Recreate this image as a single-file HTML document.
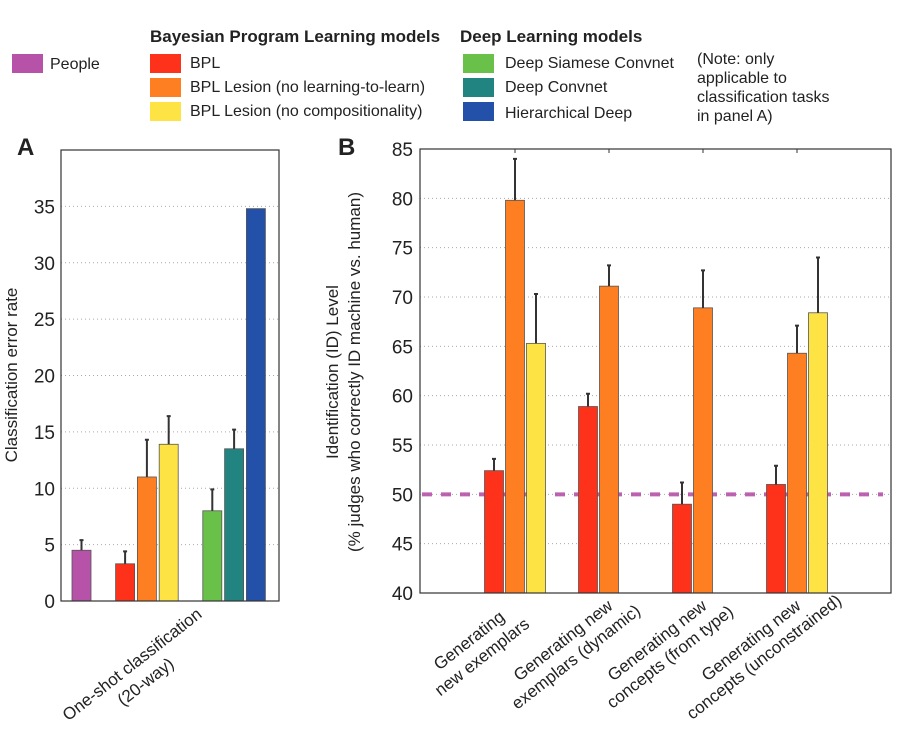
<!DOCTYPE html>
<html><head><meta charset="utf-8"><style>
body{margin:0;background:#fff;font-family:"Liberation Sans",sans-serif;}
svg text{font-family:"Liberation Sans",sans-serif;fill:#222;}
</style></head><body>
<svg width="924" height="729" viewBox="0 0 924 729" xmlns="http://www.w3.org/2000/svg" id="fig">
<g>
 <rect x="12" y="54" width="31" height="19" fill="#b652a8"/>
 <text x="50" y="69" font-size="16">People</text>
 <text x="150" y="42" font-size="17" font-weight="bold">Bayesian Program Learning models</text>
 <rect x="150" y="54" width="31" height="19" fill="#fe321a"/>
 <text x="190" y="68" font-size="16">BPL</text>
 <rect x="150" y="78" width="31" height="19" fill="#fe7f22"/>
 <text x="190" y="92" font-size="16">BPL Lesion (no learning-to-learn)</text>
 <rect x="150" y="102" width="31" height="19" fill="#fde444"/>
 <text x="190" y="116" font-size="16">BPL Lesion (no compositionality)</text>
 <text x="460" y="42" font-size="17" font-weight="bold">Deep Learning models</text>
 <rect x="463" y="54" width="31" height="19" fill="#69c14a"/>
 <text x="505" y="68" font-size="16">Deep Siamese Convnet</text>
 <rect x="463" y="78" width="31" height="19" fill="#228480"/>
 <text x="505" y="92" font-size="16">Deep Convnet</text>
 <rect x="463" y="102" width="31" height="19" fill="#2350a8"/>
 <text x="505" y="118" font-size="16">Hierarchical Deep</text>
 <text font-size="16"><tspan x="697" y="64">(Note: only</tspan><tspan x="697" y="83">applicable to</tspan><tspan x="697" y="102">classification tasks</tspan><tspan x="697" y="121">in panel A)</tspan></text>
</g>
<text x="17" y="155" font-size="24" font-weight="bold">A</text>
<text x="338" y="155" font-size="24" font-weight="bold">B</text>
<g id="pa"></g>
<g id="pb"></g>
</svg>
<script>
// Panel A data
const aColors=["#b652a8","#fe321a","#fe7f22","#fde444","#69c14a","#228480","#2350a8"];
const aValues=[4.5,3.3,11.0,13.9,8.0,13.5,34.8];
const aErr=[5.4,4.4,14.3,16.4,9.9,15.2,null];
const aTicks=[0,5,10,15,20,25,30,35];
const aSlot=[0,2,3,4,6,7,8];
// Panel B data
const bCategories=["Generating|new exemplars","Generating new|exemplars (dynamic)","Generating new|concepts (from type)","Generating new|concepts (unconstrained)"];
const bRed=[52.4,58.9,49.0,51.0];
const bRedErr=[53.6,60.2,51.2,52.9];
const bOrange=[79.8,71.1,68.9,64.3];
const bOrangeErr=[84.0,73.2,72.7,67.1];
const bYellow=[65.3,null,null,68.4];
const bYellowErr=[70.3,null,null,74.0];
const bTicks=[40,45,50,55,60,65,70,75,80,85];
const bHuman=50;

const NS="http://www.w3.org/2000/svg";
function mk(parent,tag,attrs,text){const e=document.createElementNS(NS,tag);for(const k in attrs)e.setAttribute(k,attrs[k]);if(text!==undefined)e.textContent=text;parent.appendChild(e);return e;}

// Panel A
(function(){
const g=document.getElementById('pa');
const L=61,R=279,T=150,B=601;
const y=v=>B-(v/40)*(B-T);
const x=s=>72+s*21.8;
for(const t of aTicks){
 if(t>0&&t<40){const gl=mk(g,'line',{x1:L,x2:R,y1:y(t),y2:y(t),stroke:'#aaa','stroke-dasharray':'1,3'});
 }
 const tl=mk(g,'text',{x:L-6,y:y(t)+7,'font-size':19,'text-anchor':'end'},t);
 
}
aValues.forEach((v,i)=>{
 const bx=x(aSlot[i]);
 const r=mk(g,'rect',{x:bx,y:y(v),width:19,height:B-y(v),fill:aColors[i],stroke:'#555','stroke-width':0.8});
 
 if(aErr[i]!=null){
  const e=mk(g,'path',{d:`M${bx+9.5},${y(v)}V${y(aErr[i])}M${bx+7.5},${y(aErr[i])}H${bx+11.5}`,stroke:'#333','stroke-width':2,fill:'none'});
  
 }
});
const fr=mk(g,'rect',{x:L,y:T,width:R-L,height:B-T,fill:'none',stroke:'#333','stroke-width':1.2});

const yt=mk(g,'text',{transform:'translate(17,375) rotate(-90)','font-size':17,'text-anchor':'middle'},'Classification error rate');

const xl=mk(g,'text',{transform:'translate(138,672) rotate(-38)','font-size':17,'text-anchor':'middle'});

mk(xl,'tspan',{x:0,y:-4},'One-shot classification');mk(xl,'tspan',{x:0,y:18},'(20-way)');
})();

// Panel B
(function(){
const g=document.getElementById('pb');
const L=420,R=891,T=149,B=593;
const y=v=>B-((v-40)/45)*(B-T);
const cx=i=>515+i*94;
for(const t of bTicks){
 if(t>40&&t<85){const gl=mk(g,'line',{x1:L,x2:R,y1:y(t),y2:y(t),stroke:'#aaa','stroke-dasharray':'1,3'});
 }
 const tl=mk(g,'text',{x:L-7,y:y(t)+7,'font-size':19,'text-anchor':'end'},t);
 
}
const hl=mk(g,'line',{x1:L+2,x2:R-8,y1:y(bHuman),y2:y(bHuman),stroke:'#b652a8','stroke-width':4,'stroke-dasharray':'10,9',opacity:0.9});

const series=[[bRed,bRedErr,'#fe321a',-21,'red'],[bOrange,bOrangeErr,'#fe7f22',0,'orange'],[bYellow,bYellowErr,'#fde444',21,'yellow']];
for(let i=0;i<bCategories.length;i++){
 series.forEach(([vals,errs,col,off,nm])=>{
  const v=vals[i]; if(v==null)return;
  const bx=cx(i)+off-9.5;
  const r=mk(g,'rect',{x:bx,y:y(v),width:19,height:B-y(v),fill:col,stroke:'#555','stroke-width':0.8});
  
  const e=mk(g,'path',{d:`M${bx+9.5},${y(v)}V${y(errs[i])}M${bx+7.5},${y(errs[i])}H${bx+11.5}`,stroke:'#333','stroke-width':2,fill:'none'});
  
 });
 const tk=mk(g,'line',{x1:cx(i),x2:cx(i),y1:T,y2:T+4,stroke:'#333'});
 
 const parts=bCategories[i].split('|');
 const xl=mk(g,'text',{transform:`translate(${cx(i)-40},648) rotate(-38)`,'font-size':17,'text-anchor':'middle'});
 
 mk(xl,'tspan',{x:0,y:-4},parts[0]);mk(xl,'tspan',{x:0,y:17},parts[1]);
}
const fr=mk(g,'rect',{x:L,y:T,width:R-L,height:B-T,fill:'none',stroke:'#333','stroke-width':1.2});

const yt=mk(g,'text',{transform:'translate(338,372) rotate(-90)','font-size':17,'text-anchor':'middle'});

mk(yt,'tspan',{x:0,y:0},'Identification (ID) Level');mk(yt,'tspan',{x:0,y:22},'(% judges who correctly ID machine vs. human)');
})();
</script>
</body></html>
